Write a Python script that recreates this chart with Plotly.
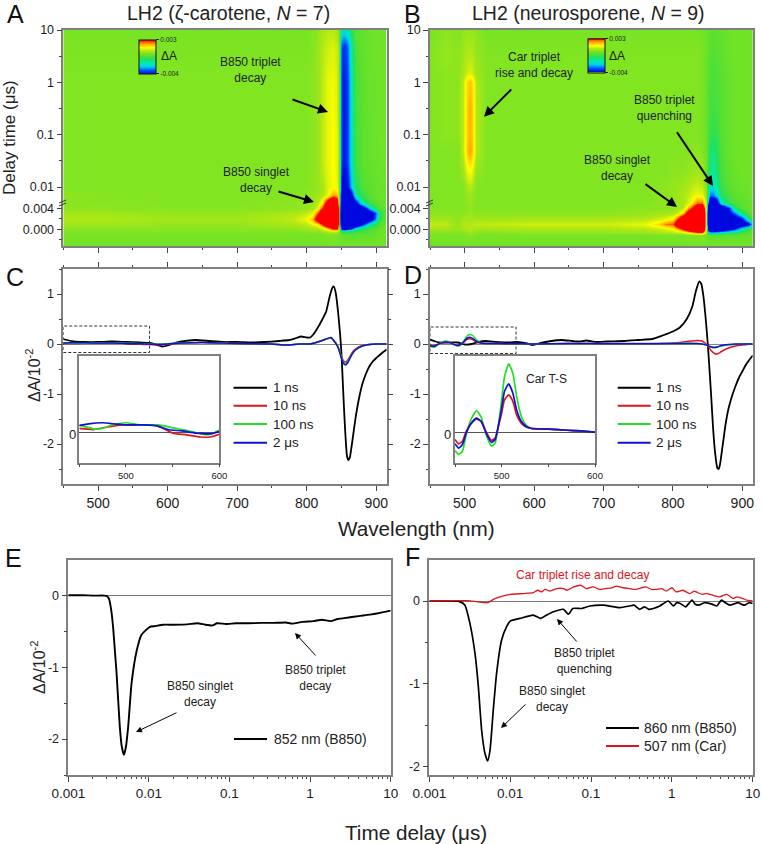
import math
import plotly.graph_objects as go

W, H = 762, 844
FONT = "Liberation Sans"
FRAME = "#808080"
INK = "#1c1c1c"

# ---------- heat map A ----------
A_nm = [450,500,600,700,780,800,808,815,822,830,838,844,847,850,853,858,864,870,880,890,898,905,915]
A_delay = [-0.003,-0.001,-0.0004,0.0002,0.001,0.002,0.003,0.004,0.005,0.007,0.01,0.03,0.1,1,5,10]
A_z = [
 [.1,.1,.1,.1,.1,.1,.1,.1,.1,.1,.1,.1,.1,.1,.1,.1,.1,.1,.1,.1,.1,.1,.1],
 [.2,.2,.2,.2,.2,.2,.2,.2,.2,.3,.3,.2,.1,-.1,-.2,-.3,-.3,-.3,-.2,-.2,-.1,0,.1],
 [.3,.3,.3,.3,.3,.4,.4,.5,.6,.9,1.2,1,.3,-1,-1.5,-1.2,-1,-.8,-.6,-.4,-.2,0,.1],
 [.4,.4,.4,.4,.5,.6,.7,.8,1.2,2,3.5,3.5,0,-5,-6,-5,-4,-2.5,-1.2,-.6,-.3,-.1,0],
 [.6,.6,.5,.5,.7,.9,1.3,1.6,3,5,6,6,0,-7,-8,-8,-7,-6,-4,-2,-.9,-.3,0],
 [.75,.75,.6,.6,.9,1.3,1.9,4,6,7,7,7,0,-8,-9,-9,-8,-7,-6,-5,-3,-.8,-.1],
 [.6,.6,.5,.5,.7,.9,1.2,2.5,5,7,7,7,0,-8,-9,-9,-8,-7,-6,-5,-3.5,-1,-.2],
 [.4,.4,.35,.35,.4,.5,.6,1.1,2.8,6,7,6,0,-7,-9,-9,-7,-6,-5,-2.5,-.9,-.3,-.1],
 [.35,.35,.3,.3,.4,.5,.6,.8,1.6,4,5.5,4,0,-6.5,-8,-8,-6,-4.5,-1.6,-.6,-.3,-.1,0],
 [.4,.35,.3,.3,.3,.4,.5,.6,.7,1.2,2.2,1.8,0,-6,-7,-6,-4.5,-1.5,-.7,-.3,-.1,0,0],
 [.3,.3,.3,.3,.3,.3,.4,.5,.7,1.1,1.4,1.2,0,-4,-4.5,-4,-2.5,-1,-.4,-.2,-.1,0,0],
 [.3,.3,.3,.3,.3,.3,.4,.5,.9,1.2,1.4,1.1,0,-3.4,-3.9,-3.5,-2,-.6,-.2,-.1,0,0,.1],
 [.3,.3,.3,.3,.3,.3,.4,.5,.9,1.2,1.4,1.1,0,-3.4,-3.9,-3.5,-2,-.6,-.2,-.1,0,.1,.1],
 [.3,.3,.3,.3,.3,.3,.4,.5,.9,1.2,1.3,1.0,0,-3.4,-3.9,-3.5,-1.9,-.5,-.2,0,0,.1,.1],
 [.25,.25,.25,.25,.25,.25,.3,.5,.8,1.0,1.1,.9,0,-3.2,-3.6,-3.2,-1.6,-.4,-.1,0,.1,.1,.1],
 [.2,.2,.2,.2,.2,.2,.3,.4,.7,.8,.8,.6,0,-1.8,-2.1,-1.9,-.9,-.3,-.1,0,.1,.1,.1],
]

# ---------- heat map B ----------
B_nm = [450,472,490,498,503,507,511,516,530,600,700,760,780,790,800,808,815,825,835,842,847,850,853,858,864,870,880,890,900,908,915]
B_delay = [-0.003,-0.0012,-0.0006,0,0.001,0.002,0.003,0.004,0.005,0.007,0.01,0.02,0.05,0.1,0.3,1,1.5,3,10]
B_z = [
 [.1,.1,.1,.1,.1,.1,.1,.1,.1,.1,.1,.1,.1,.1,.1,.1,.1,.1,.1,.1,.1,.1,.1,.1,.1,.1,.1,.1,.1,.1,.1],
 [.2,.2,.2,.2,.3,.3,.3,.2,.2,.2,.2,.2,.2,.2,.2,.2,.2,.3,.3,.3,.1,-.1,-.2,-.2,-.2,-.2,-.2,-.2,-.1,-.1,0],
 [.4,.4,.3,.4,.5,.6,.5,.4,.4,.5,.5,.6,.7,.8,.9,1.1,1.3,2,3,3,.8,-2,-3,-3,-2.8,-2.5,-2,-1.3,-.7,-.3,-.1],
 [.6,.6,.5,.6,.7,.8,.7,.6,.6,.7,.7,.8,.9,1.1,1.4,2,3,5,7,6,1,-4.5,-7,-7,-6,-5.5,-4.5,-3.5,-1.8,-.8,-.3],
 [.9,.9,.5,.8,.8,.8,.8,.9,.9,1,1,1.2,1.8,2.4,2.6,4.5,6,7,7,7,1,-7,-8,-8,-8,-7,-6,-5.5,-5,-4.5,-2],
 [.6,.6,.4,.6,.6,.6,.6,.6,.6,.7,.7,.8,1,1.2,1.6,3,5,7,7,7,1,-7,-8,-9,-8,-7,-6,-5,-4,-1.5,-.3],
 [.4,.4,.4,.4,.5,.6,.5,.4,.4,.4,.4,.5,.6,.6,.7,1,1.8,4.5,7,7,1,-7,-9,-9,-8,-7,-4.5,-3,-1.2,-.3,-.1],
 [.3,.3,.3,.3,.4,.4,.4,.3,.3,.3,.3,.4,.4,.4,.5,.6,.8,2.5,4.5,5,1,-6,-9,-9,-7,-6,-4,-1,-.3,-.1,0],
 [.3,.3,.3,.3,.4,.5,.4,.3,.3,.3,.3,.3,.4,.4,.5,.6,.7,1.2,2.5,2.5,.8,-3,-6,-6,-4.5,-2,-.8,-.4,-.2,-.1,0],
 [.3,.3,.3,.3,.5,.6,.5,.3,.3,.3,.3,.3,.4,.4,.5,.6,.7,1,1.3,1.2,.5,-1.5,-3,-3,-2.2,-1,-.5,-.2,-.1,0,0],
 [.3,.3,.3,.3,.7,.8,.7,.3,.3,.3,.3,.3,.4,.4,.5,.5,.6,.8,1,.9,.3,-1,-2.2,-2.2,-1.5,-.7,-.3,-.1,0,0,.1],
 [.3,.3,.3,.6,1.2,1.4,1.2,.5,.3,.3,.3,.3,.3,.3,.4,.4,.4,.5,.6,.5,.1,-.7,-1.4,-1.6,-1,-.5,-.2,0,.1,.1,.1],
 [.3,.3,.3,.9,1.9,2.2,1.9,.8,.3,.3,.3,.3,.3,.3,.3,.3,.3,.3,.4,.3,0,-.5,-1.1,-1.3,-.9,-.4,-.1,0,.1,.1,.1],
 [.3,.4,.4,.9,1.8,2.0,1.8,.8,.3,.3,.3,.3,.3,.3,.3,.3,.3,.3,.3,.2,0,-.4,-.7,-.9,-.7,-.3,-.1,0,.1,.1,.1],
 [.3,.4,.4,.9,1.8,2.1,1.8,.8,.3,.3,.3,.3,.3,.3,.3,.3,.3,.3,.3,.2,0,-.3,-.5,-.6,-.5,-.3,-.1,0,.1,.1,.1],
 [.3,.4,.4,.9,1.7,1.9,1.7,.8,.3,.3,.3,.3,.3,.3,.3,.3,.3,.3,.3,.2,0,-.3,-.4,-.5,-.4,-.3,-.1,0,.1,.1,.1],
 [.3,.4,.4,.7,1.0,1.1,1.0,.6,.3,.3,.3,.3,.3,.3,.3,.3,.3,.3,.3,.2,0,-.2,-.4,-.5,-.4,-.2,-.1,0,.1,.1,.1],
 [.3,.5,.4,.6,.8,.8,.8,.5,.3,.3,.3,.3,.3,.3,.3,.3,.3,.3,.3,.2,0,-.2,-.3,-.4,-.3,-.2,0,.1,.1,.1,.1],
 [.2,.4,.3,.4,.5,.5,.5,.4,.2,.2,.2,.2,.2,.2,.2,.2,.2,.2,.2,.1,0,-.1,-.2,-.2,-.2,-.1,0,.1,.1,.1,.1],
]

# ---------- spectra C (dA / 10^-2) ----------
C_nm_1ns = [450,455,465,480,500,520,540,560,575,585,592,600,610,620,640,660,680,700,720,740,760,775,785,792,800,805,810,816,822,828,833,837,839,842,845,848,850,852,854,856,858,860,862,865,870,875,880,885,890,895,900,905,910,915]
C_1ns = [.10,.08,.05,.04,.04,.05,.04,.03,.02,-.02,-.05,-.03,.02,.05,.08,.06,.04,.04,.03,.04,.06,.08,.12,.15,.13,.13,.20,.33,.48,.65,.95,1.13,1.15,1.0,.65,.2,-.2,-.8,-1.4,-1.9,-2.25,-2.32,-2.27,-2.0,-1.5,-1.1,-.8,-.6,-.45,-.35,-.28,-.22,-.16,-.11]
C_nm_10ns = [450,465,480,495,510,530,540,550,565,580,590,600,620,650,700,750,770,790,805,820,835,840,845,850,853,856,860,865,870,880,890,900,915]
C_10ns = [.010,.007,.014,.020,.019,.020,.010,-.003,-.008,-.014,-.014,-.006,.02,.03,.01,0,-.02,0,0,.06,.12,.05,-.05,-.25,-.34,-.36,-.30,-.18,-.10,-.03,-.01,0,0]
C_nm_100ns = [450,465,475,485,500,515,535,548,565,580,590,600,620,650,700,750,770,790,805,820,835,840,845,850,853,856,860,865,870,880,890,900,915]
C_100ns = [.020,.009,.010,.020,.026,.020,.020,.013,.005,-.005,-.007,.005,.02,.03,.01,0,-.02,0,0,.06,.12,.05,-.06,-.27,-.37,-.39,-.33,-.2,-.12,-.04,-.01,0,0]
C_nm_2us = [450,460,475,490,500,520,535,545,560,575,590,600,620,650,700,750,770,790,805,820,835,840,845,850,853,856,860,865,870,880,890,900,915]
C_2us = [.018,.023,.026,.022,.020,.020,.016,.007,.003,-.003,-.005,.001,.02,.03,.01,0,-.02,0,0,.06,.13,.05,-.07,-.29,-.39,-.42,-.35,-.21,-.12,-.04,-.01,0,0]

# ---------- spectra D ----------
D_nm_1ns = [450,458,465,475,490,500,510,520,530,545,560,575,590,598,610,625,640,655,665,675,690,705,730,750,770,785,800,810,820,828,833,838,841,844,847,850,852,855,858,861,864,866,868,872,876,880,885,890,895,900,905,910,915]
D_1ns = [.09,.05,.03,.03,.03,-.01,0,.04,.06,.04,.03,.04,.01,-.02,.02,.06,.08,.06,.05,.07,.04,.05,.06,.08,.10,.17,.25,.33,.50,.75,1.05,1.25,1.2,.95,.55,.05,-.35,-1.0,-1.7,-2.2,-2.48,-2.5,-2.4,-2.0,-1.6,-1.3,-1.05,-.85,-.68,-.55,-.42,-.32,-.23]
D_nm_inset = [450,454,458,462,467,473,478,484,489,493,497,500,503,507.5,512,516,521,526,532,550,570,585,600,650,700,750,800,820,835,842,850,855,860,864,870,880,890,900,915]
D_10ns = [-.021,-.033,-.026,.002,.023,.036,.030,-.003,-.023,-.017,.020,.053,.090,.104,.086,.048,.025,.014,.010,.008,.005,.003,0,.01,.01,.01,.02,.05,.07,.06,-.03,-.13,-.19,-.20,-.15,-.08,-.04,-.02,0]
D_100ns = [-.052,-.063,-.054,-.007,.034,.060,.042,-.012,-.040,-.031,.030,.090,.155,.191,.165,.100,.044,.020,.010,.008,.005,.003,0,.01,.005,.005,.01,.02,.01,0,-.03,-.06,-.07,-.06,-.04,-.02,-.01,0,0]
D_2us = [-.033,-.045,-.035,-.003,.023,.039,.030,-.007,-.029,-.021,.025,.067,.114,.135,.109,.062,.030,.016,.010,.008,.005,.003,0,.01,.005,.005,.01,.01,.01,0,-.03,-.06,-.07,-.06,-.03,-.01,0,0,0]

# ---------- kinetics E ----------
E_t = [.001,.0015,.002,.0028,.003,.0032,.0034,.0036,.0038,.00397,.00435,.0046,.0049,.0052,.00554,.0061,.00703,.0081,.0103,.012,.015,.02,.03,.04,.05,.062,.07,.09,.12,.17,.25,.35,.5,.6,.8,1.1,1.4,1.8,2.2,3,4,5.5,7,10]
E_852 = [0,0,-.005,-.005,-.01,-.05,-.2,-.45,-.8,-1.08,-1.82,-2.1,-2.22,-2.1,-1.82,-1.22,-.78,-.55,-.44,-.43,-.41,-.41,-.405,-.39,-.41,-.42,-.39,-.40,-.39,-.39,-.385,-.385,-.38,-.395,-.37,-.36,-.34,-.36,-.33,-.31,-.29,-.27,-.25,-.215]

# ---------- kinetics F ----------
F_t_860 = [.001,.002,.0024,.00276,.00318,.00367,.00404,.00444,.00488,.00527,.00564,.00618,.0068,.00784,.00904,.0101,.0132,.0193,.0238,.0283,.0343,.0455,.0525,.0596,.0765,.0968,.142,.228,.30,.34,.40,.46,.52,.59,.71,.9,1.05,1.15,1.27,1.48,1.78,1.95,2.15,2.56,3.2,3.6,4.1,4.6,5.2,6.6,7.3,8,9,10]
F_860 = [0,0,-.01,-.05,-.27,-.63,-1.03,-1.56,-1.84,-1.93,-1.8,-1.32,-.87,-.47,-.31,-.24,-.21,-.17,-.21,-.17,-.13,-.10,-.16,-.09,-.09,-.06,-.05,-.08,-.06,-.05,-.10,-.07,-.10,-.09,-.06,0,-.06,-.02,-.03,-.07,.01,-.04,-.05,-.02,-.04,-.06,.01,-.02,-.05,-.02,-.04,-.05,-.02,-.03]
F_t_507 = [.001,.002,.003,.004,.0053,.0062,.0075,.0101,.0146,.0193,.022,.0245,.027,.0312,.0378,.0458,.0505,.061,.075,.088,.106,.128,.15,.18,.206,.25,.30,.36,.42,.48,.56,.64,.75,.85,1.0,1.13,1.37,1.66,1.9,2.1,2.4,2.7,3.2,3.9,4.8,5.7,6.4,7.6,8.5,10]
F_507 = [0,.005,.005,-.01,-.02,.02,.05,.08,.09,.10,.13,.11,.14,.12,.15,.15,.13,.17,.19,.15,.17,.14,.15,.16,.18,.16,.15,.14,.16,.17,.14,.14,.15,.12,.16,.11,.13,.09,.12,.10,.08,.09,.07,.05,.08,.03,.05,.03,.01,0]

# ---------- tick labels ----------
DELAY_TICKS = [10,1,0.1,0.01,0.004,0]
DELAY_LABELS = ["10","1","0.1","0.01","0.004","0.000"]
WAVE_TICKS = [500,600,700,800,900]
TIME_TICKS = [0.001,0.01,0.1,1,10]
TIME_LABELS = ["0.001","0.01","0.1","1","10"]


def delay_axis(t):
    # broken time axis: linear up to 0.004 us, log-ten above it
    if t <= 0.005:
        return t / 0.004 * 21
    return 42 + 52.3 * math.log10(t / 0.01)

def px(x): return x / W
def py(y): return 1 - y / H
def dx(l, r): return [px(l), px(r)]
def dy(t, b): return [py(b), py(t)]

COLORS = [
 [0.0,"#0008e0"],[0.1,"#0050ff"],[0.214,"#00d0f0"],[0.314,"#00ecb0"],[0.43,"#20e060"],
 [0.53,"#58e030"],[0.6,"#78e424"],[0.686,"#b4e814"],[0.771,"#ffff00"],[0.886,"#ffa000"],[1.0,"#ff0000"],
]

fig = go.Figure()

def heat(nm, delay, z, xa, ya, cb_x, cb_top):
    fig.add_trace(go.Heatmap(
        x=nm, y=[delay_axis(t) for t in delay], z=z, xaxis=xa, yaxis=ya,
        zmin=-4, zmax=3, zsmooth="best", colorscale=COLORS, hoverinfo="skip",
        colorbar=dict(
            x=px(cb_x), xanchor="left", xpad=0, y=py(cb_top), yanchor="top", ypad=0,
            thickness=17, thicknessmode="pixels", len=34, lenmode="pixels",
            tickmode="array", tickvals=[3,-4], ticktext=["0.003","-0.004"],
            ticks="outside", ticklen=3, tickcolor="#222", tickwidth=1,
            tickfont=dict(size=6.5, color="#222", family=FONT),
            outlinecolor="#111", outlinewidth=1, borderwidth=0,
        ),
    ))

def line(x, y, xa, ya, color, width, name):
    fig.add_trace(go.Scatter(x=x, y=y, xaxis=xa, yaxis=ya, mode="lines", name=name, showlegend=False,
                             line=dict(color=color, width=width, shape="spline", smoothing=0.5)))

heat(A_nm, A_delay, A_z, "x", "y", 139, 39.5)
heat(B_nm, B_delay, B_z, "x2", "y2", 587.5, 38.5)

BLACK, RED, GREEN, BLUE = "#000000", "#e0141c", "#22e022", "#1010d8"
line(C_nm_1ns, C_1ns, "x3", "y3", BLACK, 1.8, "1 ns")
line(C_nm_10ns, C_10ns, "x3", "y3", RED, 1.5, "10 ns")
line(C_nm_100ns, C_100ns, "x3", "y3", GREEN, 1.5, "100 ns")
line(C_nm_2us, C_2us, "x3", "y3", BLUE, 1.5, "2 us")
line(D_nm_1ns, D_1ns, "x4", "y4", BLACK, 1.8, "1 ns")
line(D_nm_inset, D_10ns, "x4", "y4", RED, 1.5, "10 ns")
line(D_nm_inset, D_100ns, "x4", "y4", GREEN, 1.5, "100 ns")
line(D_nm_inset, D_2us, "x4", "y4", BLUE, 1.5, "2 us")
line(E_t, E_852, "x5", "y5", BLACK, 1.9, "852 nm (B850)")
line(F_t_860, F_860, "x6", "y6", BLACK, 1.7, "860 nm (B850)")
line(F_t_507, F_507, "x6", "y6", RED, 1.3, "507 nm (Car)")
# insets
line(C_nm_10ns, C_10ns, "x7", "y7", RED, 1.7, "10 ns")
line(C_nm_100ns, C_100ns, "x7", "y7", GREEN, 1.7, "100 ns")
line(C_nm_2us, C_2us, "x7", "y7", BLUE, 1.7, "2 us")
line(D_nm_inset, D_100ns, "x8", "y8", GREEN, 1.7, "100 ns")
line(D_nm_inset, D_10ns, "x8", "y8", RED, 1.7, "10 ns")
line(D_nm_inset, D_2us, "x8", "y8", BLUE, 1.7, "2 us")


def base_axis(**kw):
    d = dict(showgrid=False, showline=True, linecolor=FRAME, linewidth=1.5, ticks="outside",
             ticklen=5, tickwidth=1, tickcolor="#444", tickfont=dict(family=FONT, size=12.5, color=INK),
             zeroline=False, layer="above traces")
    d.update(kw)
    return d

def minor(vals=None, dtick=None, ln=2.5):
    m = dict(ticks="outside", ticklen=ln, tickwidth=1, tickcolor="#444", showgrid=False)
    if vals is not None:
        m.update(tickmode="array", tickvals=vals)
    if dtick is not None:
        m.update(dtick=dtick, tick0=450)
    return m

def log_minor():
    return [m * 10.0 ** k for k in (-3,-2,-1,0) for m in range(2,10)]

wave_x = dict(range=[450,915], tickmode="array", tickvals=WAVE_TICKS, minor=minor(dtick=50))
delay_y = dict(range=[delay_axis(-0.0032), delay_axis(10)], tickmode="array",
               tickvals=[delay_axis(t) for t in DELAY_TICKS], ticktext=DELAY_LABELS,
               minor=minor(vals=[delay_axis(t) for t in (3.16,0.316,0.0316,0.002,-0.002)]))
spec_y = dict(range=[-2.8,1.5], tickmode="array", tickvals=[1,0,-1,-2], ticktext=["1","0","-1","-2"],
              minor=minor(vals=[1.5,.5,-.5,-1.5,-2.5]), zeroline=True, zerolinecolor="#888", zerolinewidth=1)
time_x = dict(type="log", range=[-3,1], tickmode="array", tickvals=TIME_TICKS, ticktext=TIME_LABELS,
              tickfont=dict(family=FONT, size=13.5, color=INK), minor=minor(vals=log_minor()))
bigtick = dict(family=FONT, size=14, color=INK)

fig.update_layout(
    width=W, height=H, margin=dict(l=0,r=0,t=0,b=0,autoexpand=False),
    paper_bgcolor="white", plot_bgcolor="white", showlegend=False,
    font=dict(family=FONT, color=INK),
    xaxis=base_axis(domain=dx(63.3,386.7), anchor="y", mirror=True, showticklabels=False, **wave_x),
    yaxis=base_axis(domain=dy(30,246), anchor="x", mirror=True, **delay_y),
    xaxis2=base_axis(domain=dx(430,752.7), anchor="y2", mirror=True, showticklabels=False, **wave_x),
    yaxis2=base_axis(domain=dy(30,246), anchor="x2", mirror=True, **delay_y),
    xaxis3=base_axis(domain=dx(63.3,386.7), anchor="y3", mirror="ticks", tickfont=bigtick, **wave_x),
    yaxis3=base_axis(domain=dy(269,484), anchor="x3", mirror="ticks", **spec_y),
    xaxis4=base_axis(domain=dx(430,752.7), anchor="y4", mirror="ticks", tickfont=bigtick, **wave_x),
    yaxis4=base_axis(domain=dy(269,484), anchor="x4", mirror=True, **spec_y),
    xaxis5=base_axis(domain=dx(68.3,390.7), anchor="y5", mirror=True, **time_x),
    yaxis5=base_axis(domain=dy(560,775), anchor="x5", mirror=True, range=[-2.5,0.49], tickmode="array",
                     tickvals=[0,-1,-2], ticktext=["0","-1","-2"], minor=minor(vals=[-.5,-1.5,-2.5]),
                     zeroline=True, zerolinecolor="#777", zerolinewidth=1),
    xaxis6=base_axis(domain=dx(429.3,752.7), anchor="y6", mirror=True, **time_x),
    yaxis6=base_axis(domain=dy(560,775), anchor="x6", mirror=True, range=[-2.1,0.495], tickmode="array",
                     tickvals=[0,-1,-2], ticktext=["0","-1","-2"], minor=minor(vals=[-.5,-1.5]),
                     zeroline=True, zerolinecolor="#777", zerolinewidth=1),
    xaxis7=base_axis(domain=dx(79.3,219.3), anchor="y7", mirror=True, range=[450,600], tickmode="array",
                     tickvals=[500,600], tickfont=dict(family=FONT,size=9.5,color=INK),
                     ticklen=3, minor=minor(vals=[450,550])),
    yaxis7=base_axis(domain=dy(355.7,462.7), anchor="x7", mirror=True, range=[-.086,.214], ticks="",
                     showticklabels=False, zeroline=True, zerolinecolor="#555", zerolinewidth=1),
    xaxis8=base_axis(domain=dx(455,595), anchor="y8", mirror=True, range=[450,600], tickmode="array",
                     tickvals=[500,600], tickfont=dict(family=FONT,size=9.5,color=INK),
                     ticklen=3, minor=minor(vals=[450,550])),
    yaxis8=base_axis(domain=dy(355.7,462.7), anchor="x8", mirror=True, range=[-.086,.214], ticks="",
                     showticklabels=False, zeroline=True, zerolinecolor="#555", zerolinewidth=1),
)

ann, shp = [], []

def txt(x, y, s, size=12, color="#222", anchor="center", angle=0):
    ann.append(dict(x=px(x), y=py(y), xref="paper", yref="paper", text=s, showarrow=False, xanchor=anchor,
                    yanchor="middle", textangle=angle, align="center",
                    font=dict(family=FONT, size=size, color=color)))

def arrow(x0, y0, x1, y1, width=2.0, size=1.0):
    ann.append(dict(x=px(x1), y=py(y1), xref="paper", yref="paper", text="", showarrow=True,
                    ax=x0-x1, ay=y0-y1, axref="pixel", ayref="pixel", arrowhead=2, arrowsize=size,
                    arrowwidth=width, arrowcolor="#000", standoff=0))

def seg(x0, y0, x1, y1, color, width=1.9):
    shp.append(dict(type="line", xref="paper", yref="paper", x0=px(x0), x1=px(x1), y0=py(y0), y1=py(y1),
                    line=dict(color=color, width=width)))

# panel letters
for s, x, y in [("A",15,14),("B",412.7,14),("C",15,277),("D",412.7,275),("E",13,558),("F",412.7,557)]:
    txt(x, y, s, size=25, color="#111")

# titles and axis titles
txt(228, 13.5, "LH2 (ζ-carotene, <i>N</i> = 7)", size=19.5)
txt(588, 13.5, "LH2 (neurosporene, <i>N</i> = 9)", size=19.5)
txt(9.5, 137.5, "Delay time (μs)", size=17, angle=-90)
txt(33, 375, "ΔA/10<sup>-2</sup>", size=16, angle=-90)
txt(38, 667, "ΔA/10<sup>-2</sup>", size=16, angle=-90)
txt(416, 528, "Wavelength (nm)", size=20.7)
txt(416, 832, "Time delay (μs)", size=20.7)

# heat map labels
txt(169, 56, "ΔA", size=12)
txt(617, 56, "ΔA", size=12)
txt(250.7, 70, "B850 triplet<br>decay")
txt(256, 180, "B850 singlet<br>decay")
txt(534, 64.5, "Car triplet<br>rise and decay")
txt(664, 108, "B850 triplet<br>quenching")
txt(617, 168, "B850 singlet<br>decay")
arrow(291, 99, 328, 112)
arrow(277, 191, 314, 202)
arrow(512.7, 88, 484, 116.7)
arrow(676, 130.7, 713, 186)
arrow(644, 183, 677, 207)

# broken axis marks
for x0, y0 in [(63,204.5),(63,201.5),(430,204.5),(430,201.5)]:
    seg(x0-4, y0+1.5, x0+3, y0-1.5, "#333", 1)

# inset labels
txt(72.7, 434, "0", size=13)
txt(447.7, 434, "0", size=13)
txt(546, 379, "Car T-S", size=12)

# line legends
for lab, color, y in [("1 ns",BLACK,387.7),("10 ns",RED,405.7),("100 ns",GREEN,424),("2 μs",BLUE,442.7)]:
    seg(233.5, y, 267, y, color)
    txt(270.7, y, lab, size=13.5, anchor="left")
    seg(617.7, y, 650.7, y, color)
    txt(654, y, lab, size=13.5, anchor="left")

seg(234, 739, 267, 739, BLACK)
txt(272, 739, "852 nm (B850)", size=14, anchor="left")
seg(606, 728, 639, 728, BLACK)
txt(642, 728, "860 nm (B850)", size=14, anchor="left")
seg(606, 746, 639, 746, RED)
txt(642, 746, "507 nm (Car)", size=14, anchor="left")

# kinetics labels
txt(200, 694, "B850 singlet<br>decay")
txt(315, 678, "B850 triplet<br>decay")
txt(582, 575, "Car triplet rise and decay", color="#e0141c")
txt(584, 661, "B850 triplet<br>quenching")
txt(552, 699, "B850 singlet<br>decay")
arrow(178, 712, 136, 732, width=1, size=1.2)
arrow(317, 657, 295, 633, width=1, size=1.2)
arrow(578, 643, 557, 619, width=1, size=1.2)
arrow(527, 703, 501, 728, width=1, size=1.2)

# dashed zoom boxes
for xa, ya, y0, y1 in [("x3","y3",-.17,.36),("x4","y4",-.19,.34)]:
    shp.append(dict(type="rect", xref=xa, yref=ya, x0=450, x1=574, y0=y0, y1=y1,
                    line=dict(color="#333", width=1, dash="3px,2px")))

fig.update_layout(annotations=ann, shapes=shp)
fig.write_html("out.html", config={"displayModeBar": False},
               post_script="document.body.style.margin='0';document.body.style.overflow='hidden';")
